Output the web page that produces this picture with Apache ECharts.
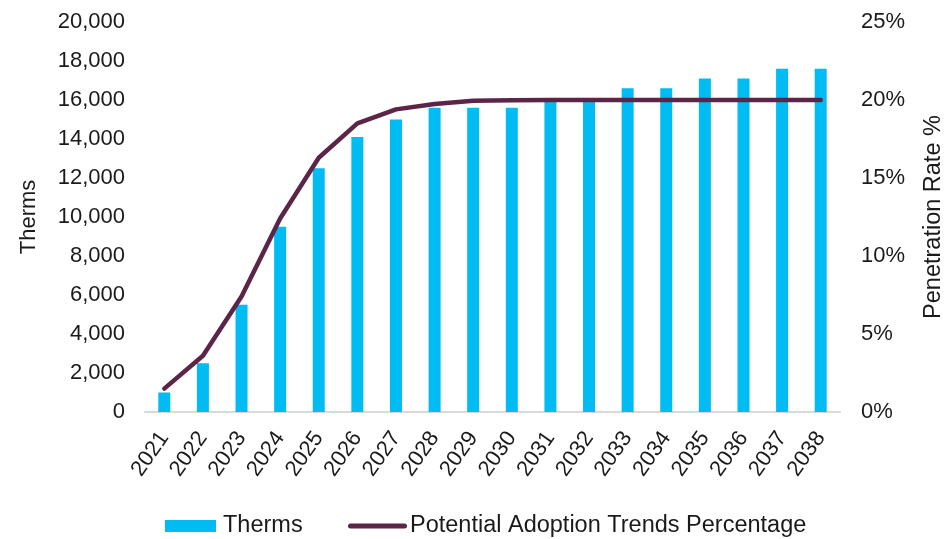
<!DOCTYPE html>
<html>
<head>
<meta charset="utf-8">
<script src="https://cdn.jsdelivr.net/npm/echarts@6/dist/echarts.min.js"></script>
<style>
  html, body { margin: 0; padding: 0; background: #ffffff; }
  #chart { width: 948px; height: 539px; }
</style>
</head>
<body>
<div id="chart"></div>
<script>
// Years on the category axis
const years = ['2021', '2022', '2023', '2024', '2025', '2026', '2027', '2028', '2029',
               '2030', '2031', '2032', '2033', '2034', '2035', '2036', '2037', '2038'];

// Annual therms (left axis)
const therms = [1000, 2500, 5500, 9500, 12500, 14100, 15000, 15600, 15600,
                15600, 16000, 16000, 16600, 16600, 17100, 17100, 17600, 17600];

// Penetration rate in percent (right axis)
const adoptionPct = [1.5, 3.6, 7.4, 12.4, 16.3, 18.5, 19.4, 19.75, 19.95,
                     19.98, 20, 20, 20, 20, 20, 20, 20, 20];

const FONT = 'Liberation Sans, Arial, sans-serif';
const TEXT = '#1a1a1a';
const BAR_COLOR = '#00bcf2';
const LINE_COLOR = '#5c2447';

const chart = echarts.init(document.getElementById('chart'), null, { renderer: 'canvas' });

chart.setOption({
  animation: false,
  backgroundColor: '#ffffff',
  textStyle: { fontFamily: FONT, color: TEXT },
  grid: {
    left: 145, right: 108, top: 22, bottom: 127,
    containLabel: false,
    outerBoundsMode: 'none'
  },
  legend: [
    {
      left: 160,
      top: 509,
      itemWidth: 51,
      itemHeight: 12,
      textStyle: { fontFamily: FONT, fontSize: 23.5, color: TEXT, padding: [0, 0, 0, 2] },
      data: [{ name: 'Therms', icon: 'rect' }]
    },
    {
      left: 343,
      top: 509,
      itemWidth: 59,
      itemHeight: 12,
      textStyle: { fontFamily: FONT, fontSize: 23.5, color: TEXT, padding: [0, 0, 0, -2] },
      data: [{
        name: 'Potential Adoption Trends Percentage',
        icon: 'path://M2.5,0 L56.5,0 A2.5,2.5 0 0 1 56.5,5 L2.5,5 A2.5,2.5 0 0 1 2.5,0 Z'
      }]
    }
  ],
  xAxis: {
    type: 'category',
    data: years,
    axisLine: { show: true, lineStyle: { color: '#d9d9d9', width: 2 } },
    axisTick: { show: false },
    axisLabel: { rotate: 55, fontSize: 22, color: TEXT, margin: 22, interval: 0 }
  },
  yAxis: [
    {
      type: 'value',
      min: 0,
      max: 20000,
      interval: 2000,
      name: 'Therms',
      nameLocation: 'middle',
      nameRotate: 90,
      nameGap: 105,
      nameTextStyle: { fontSize: 22, color: TEXT },
      splitLine: { show: false },
      axisLine: { show: false },
      axisTick: { show: false },
      axisLabel: {
        fontSize: 22,
        color: TEXT,
        margin: 20,
        formatter: v => v.toLocaleString('en-US')
      }
    },
    {
      type: 'value',
      min: 0,
      max: 25,
      interval: 5,
      name: 'Penetration Rate %',
      nameLocation: 'middle',
      nameRotate: 90,
      nameGap: 82,
      nameTextStyle: { fontSize: 23.5, color: TEXT },
      splitLine: { show: false },
      axisLine: { show: false },
      axisTick: { show: false },
      axisLabel: { fontSize: 22, color: TEXT, margin: 21, formatter: '{value}%' }
    }
  ],
  series: [
    {
      name: 'Therms',
      type: 'bar',
      data: therms,
      barWidth: 12,
      itemStyle: { color: BAR_COLOR },
      yAxisIndex: 0
    },
    {
      name: 'Potential Adoption Trends Percentage',
      type: 'line',
      data: adoptionPct,
      yAxisIndex: 1,
      symbol: 'none',
      smooth: false,
      lineStyle: { color: LINE_COLOR, width: 4.5, cap: 'round', join: 'round' },
      itemStyle: { color: LINE_COLOR }
    }
  ]
});
</script>
</body>
</html>
